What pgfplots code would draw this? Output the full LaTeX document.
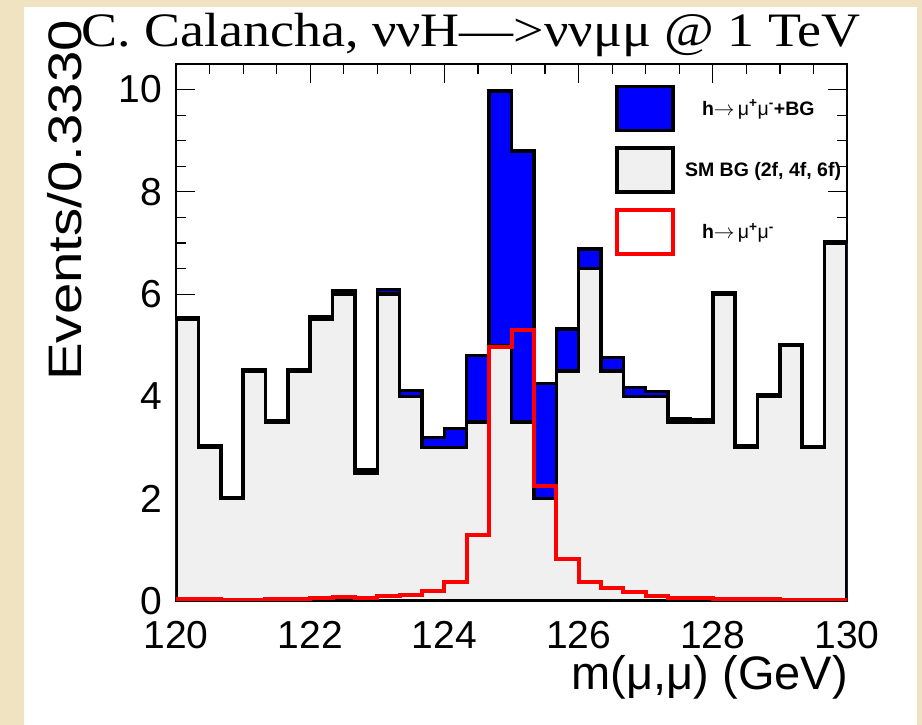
\documentclass[border=0pt]{standalone}
\usepackage{pgfplots}
\pgfplotsset{compat=1.18}
\usepackage{pgfplotstable}
\usepackage{fontspec}
\setmainfont{Liberation Sans}
\newfontfamily\serifttl{Liberation Serif}
\definecolor{parch}{RGB}{239,227,194}
\definecolor{bggray}{RGB}{240,240,240}

\pgfplotstableread{
x       tot   bg   sig
120.000 5.53  5.5  0.03
120.333 3.03  3.0  0.03
120.667 2.02  2.0  0.02
121.000 4.52  4.5  0.02
121.333 3.53  3.5  0.03
121.667 4.53  4.5  0.03
122.000 5.55  5.5  0.05
122.333 6.07  6.0  0.07
122.667 2.56  2.5  0.06
123.000 6.09  6.0  0.09
123.333 4.12  4.0  0.12
123.667 3.20  3.0  0.20
124.000 3.37  3.0  0.37
124.333 4.80  3.5  1.30
124.667 9.97  5.0  4.97
125.000 8.80  3.5  5.30
125.333 4.25  2.0  2.25
125.667 5.32  4.5  0.82
126.000 6.88  6.5  0.38
126.333 4.76  4.5  0.26
126.667 4.17  4.0  0.17
127.000 4.10  4.0  0.10
127.333 3.56  3.5  0.06
127.667 3.55  3.5  0.05
128.000 6.03  6.0  0.03
128.333 3.03  3.0  0.03
128.667 4.03  4.0  0.03
129.000 5.02  5.0  0.02
129.333 3.02  3.0  0.02
129.667 7.02  7.0  0.02
130.000 7.02  7.0  0.02
}\hist

\begin{document}
\begin{tikzpicture}[x=1pt,y=1pt]
\fill[parch] (0,0) rectangle (922,725);
\fill[white] (24,0) rectangle (917,718);
\useasboundingbox (0,0) rectangle (922,725);
\node[anchor=base west, inner sep=0pt] at (81,678)
  {\fontsize{48}{48}\selectfont\serifttl\scalebox{1.125}[1]{C. Calancha, ννH—>ννμμ @ 1 TeV}};
\begin{axis}[
  at={(176pt,124pt)}, anchor=south west,
  scale only axis, width=671pt, height=537pt,
  xmin=120, xmax=130, ymin=0, ymax=10.5,
  xtick={120,122,124,126,128,130}, ytick={0,2,4,6,8,10},
  minor x tick num=3, minor y tick num=3,
  tick align=inside,
  major tick length=19pt, minor tick length=10pt,
  every tick/.style={black, line width=1.2pt},
  axis line style={line width=2.8pt},
  tick label style={font=\fontsize{39}{39}\selectfont},
  /pgf/number format/assume math mode=true,
  /pgf/number format/1000 sep={},
  yticklabel style={inner sep=0pt, xshift=-14pt},
  xticklabel style={inner sep=0pt, yshift=-20pt},
  xlabel={m(μ,μ) (GeV)},
  xlabel style={at={(axis description cs:1.0015,-0.1657)}, anchor=base east,
    font=\fontsize{47}{47}\selectfont, inner sep=0pt},
  ylabel={\scalebox{1.2}[1]{Events/0.3330}},
  ylabel style={at={(axis description cs:-0.1654,1.082)}, anchor=east,
    font=\fontsize{47}{47}\selectfont, inner sep=0pt},
  legend image code/.code={\draw[#1] (0pt,-22pt) rectangle (56pt,22pt);},
  legend style={at={(axis description cs:0.654,0.962)}, anchor=north west,
    draw=none, fill=none, inner sep=0pt, row sep=14pt,
    font=\fontsize{19.5}{19.5}\selectfont\bfseries,
    /tikz/every odd column/.style={column sep=8pt}},
  legend cell align=left,
]
\addplot[const plot, fill=blue, draw=black, line width=3.5pt] table[x=x,y=tot]{\hist} \closedcycle;
\addlegendentry{\hspace*{17pt}h$\rightarrow$\,{\mdseries μ}\textsuperscript{+}{\mdseries μ}\textsuperscript{-}+BG}
\addplot[const plot, fill=bggray, draw=black, line width=3.5pt] table[x=x,y=bg]{\hist} \closedcycle;
\addlegendentry{SM BG (2f, 4f, 6f)}
\addplot[const plot, draw=red, line width=4pt] table[x=x,y=sig]{\hist};
\addlegendentry{\hspace*{17pt}h$\rightarrow$\,{\mdseries μ}\textsuperscript{+}{\mdseries μ}\textsuperscript{-}}
\end{axis}
\end{tikzpicture}
\end{document}
